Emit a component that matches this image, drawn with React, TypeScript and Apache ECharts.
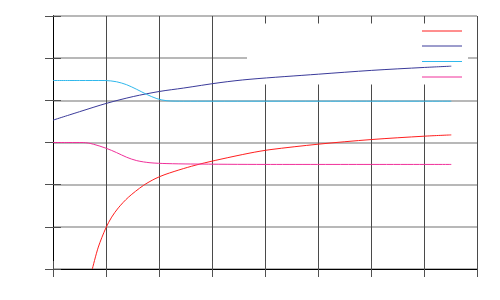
import React, { useEffect, useRef } from "react";
import * as echarts from "echarts";

const seriesNames = ["A", "B", "C", "D"];
const seriesColors = ["#ff1f1f", "#3a3a9a", "#30b8ec", "#f0309a"];

const redPoints: [number, number][] = [
  [0.742, 0], [0.855, 0.52], [1.0, 0.98], [1.107, 1.23], [1.233, 1.45], [1.421, 1.7],
  [1.704, 1.98], [1.925, 2.14], [2.113, 2.24], [2.458, 2.38], [2.774, 2.49], [3.151, 2.6],
  [3.717, 2.75], [4.094, 2.83], [5.006, 2.96], [6.006, 3.07], [7.006, 3.15], [7.515, 3.18],
];
const bluePoints: [number, number][] = [
  [0, 3.53], [0.5, 3.73], [1.013, 3.93], [1.515, 4.09], [2.006, 4.21], [2.458, 4.29],
  [3.151, 4.42], [3.717, 4.5], [5.006, 4.62], [6.006, 4.71], [7.006, 4.78], [7.515, 4.81],
];
const cyanPoints: [number, number][] = [
  [0, 4.47], [0.5, 4.47], [0.98, 4.47], [1.2, 4.44], [1.39, 4.37], [1.58, 4.26],
  [1.77, 4.14], [1.96, 4.04], [2.15, 3.99], [2.46, 3.98], [3.0, 3.98], [5.0, 3.98], [7.515, 3.98],
];
const pinkPoints: [number, number][] = [
  [0, 3.0], [0.3, 3.0], [0.57, 3.0], [0.76, 2.96], [1.01, 2.86], [1.2, 2.76],
  [1.39, 2.65], [1.58, 2.57], [1.83, 2.52], [2.15, 2.5], [2.6, 2.49], [4.0, 2.48], [7.515, 2.48],
];

const xTicks = { min: 0, max: 8, interval: 1 };
const yTicks = { min: 0, max: 6, interval: 1 };

export default function App() {
  const ref = useRef<HTMLDivElement>(null);
  useEffect(() => {
    if (!ref.current) return;
    const chart = echarts.init(ref.current, undefined, { renderer: "svg" });
    const allData = [redPoints, bluePoints, cyanPoints, pinkPoints];
    const tickStyle = { show: true, inside: true, length: 8, lineStyle: { color: "#505050", width: 1 } };
    const axisLine = { show: true, lineStyle: { color: "#000", width: 1 } };
    const keyLineYs = [31, 46, 61.5, 77];
    chart.setOption({
      animation: false,
      backgroundColor: "#fff",
      grid: { left: 53, top: 16, right: 23, bottom: 31, containLabel: false },
      xAxis: [
        {
          type: "value", ...xTicks, position: "bottom",
          axisLine, axisTick: tickStyle, axisLabel: { show: false },
          splitLine: { show: true, lineStyle: { color: "#4a4a4a", width: 1 } },
        },
        {
          type: "value", ...xTicks, position: "top",
          axisLine, axisTick: tickStyle, axisLabel: { show: false }, splitLine: { show: false },
        },
      ],
      yAxis: [
        {
          type: "value", ...yTicks, position: "left",
          axisLine, axisTick: tickStyle, axisLabel: { show: false },
          splitLine: { show: true, lineStyle: { color: "#a0a0a0", width: 1.5 } },
        },
        {
          type: "value", ...yTicks, position: "right",
          axisLine, axisTick: tickStyle, axisLabel: { show: false }, splitLine: { show: false },
        },
      ],
      graphic: [
        {
          type: "rect",
          z: 1,
          shape: { x: 247, y: 23.5, width: 221, height: 61 },
          style: { fill: "#fff" },
          silent: true,
        },
        ...keyLineYs.map((y, i) => ({
          type: "line",
          z: 4,
          silent: true,
          shape: { x1: 422, y1: y, x2: 462, y2: y },
          style: { stroke: seriesColors[i], lineWidth: 1 },
        })),
      ],
      series: allData.map((d, i) => ({
        name: seriesNames[i],
        type: "line",
        z: 3,
        data: d,
        smooth: 0.3,
        symbol: "none",
        color: seriesColors[i],
        lineStyle: { color: seriesColors[i], width: 1 },
      })),
    });
    return () => chart.dispose();
  }, []);
  return (
    <div
      ref={ref}
      style={{ position: "absolute", left: 0, top: 0, width: 500, height: 300 }}
    />
  );
}
